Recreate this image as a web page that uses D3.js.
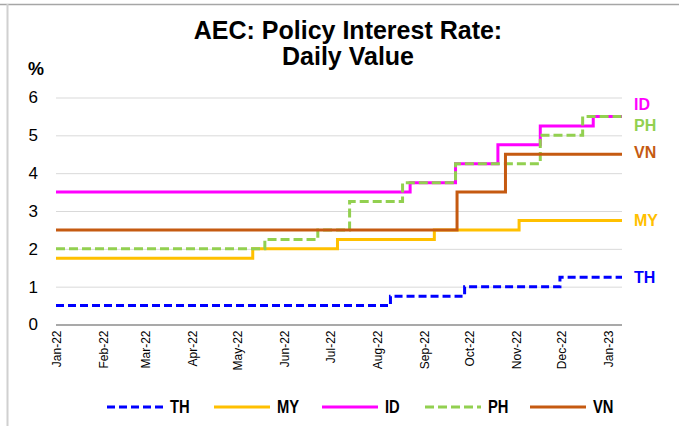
<!DOCTYPE html>
<html>
<head>
<meta charset="utf-8">
<script src="https://cdn.jsdelivr.net/npm/d3@7"></script>
<style>
  body { margin: 0; background: #fff; }
  svg { display: block; font-family: "Liberation Sans", Arial, sans-serif; }
</style>
</head>
<body>
<div id="chart"></div>
<script>
// policy rate changes (date the new rate starts, value in %)
const seriesNames = ['TH', 'MY', 'ID', 'PH', 'VN']
const startDate = '2022-01-01'
const endDate = '2023-01-10'

const thDates = ['2022-01-01', '2022-08-10', '2022-09-28', '2022-11-30']
const thValues = [0.5, 0.75, 1.0, 1.25]

const myDates = ['2022-01-01', '2022-05-11', '2022-07-06', '2022-09-08', '2022-11-03']
const myValues = [1.75, 2.0, 2.25, 2.5, 2.75]

const idDates = ['2022-01-01', '2022-08-23', '2022-09-22', '2022-10-20', '2022-11-17', '2022-12-22']
const idValues = [3.5, 3.75, 4.25, 4.75, 5.25, 5.5]

const phDates = ['2022-01-01', '2022-05-19', '2022-06-23', '2022-07-14', '2022-08-18', '2022-09-22', '2022-11-17', '2022-12-15']
const phValues = [2.0, 2.25, 2.5, 3.25, 3.75, 4.25, 5.0, 5.5]

const vnDates = ['2022-01-01', '2022-09-23', '2022-10-25']
const vnValues = [2.5, 3.5, 4.5]

const yTicks = [0, 1, 2, 3, 4, 5, 6]
const xTickDates = ['2022-01-01', '2022-02-01', '2022-03-01', '2022-04-01', '2022-05-01', '2022-06-01',
  '2022-07-01', '2022-08-01', '2022-09-01', '2022-10-01', '2022-11-01', '2022-12-01', '2023-01-01']

const parse = d3.utcParse('%Y-%m-%d')

const draw = () => {
  const width = 679
  const height = 426
  const plot = { left: 56, right: 622, top: 97.5, bottom: 324.5 }

  const svg = d3.select('#chart')
    .append('svg')
    .attr('width', width)
    .attr('height', height)

  // frame
  svg.append('line')
    .attr('x1', 0).attr('x2', width).attr('y1', 4.5).attr('y2', 4.5)
    .attr('stroke', '#a6a6a6').attr('stroke-width', 1.5)
  svg.append('line')
    .attr('x1', 7.5).attr('x2', 7.5).attr('y1', 4).attr('y2', height)
    .attr('stroke', '#d0d0d0').attr('stroke-width', 2)

  const xScale = d3.scaleUtc()
    .domain([parse(startDate), parse(endDate)])
    .range([plot.left, plot.right])

  const yScale = d3.scaleLinear()
    .domain([0, 6])
    .range([plot.bottom, plot.top])

  // gridlines + y labels
  const yAxis = d3.axisLeft(yScale)
    .tickValues(yTicks)
    .tickSize(-(plot.right - plot.left))
    .tickPadding(18)
    .tickFormat(d3.format('d'))

  const yAxisGroup = svg.append('g')
    .attr('transform', `translate(${plot.left}, 0)`)
    .call(yAxis)
  yAxisGroup.select('.domain').remove()
  yAxisGroup.selectAll('line')
    .attr('stroke', d => d === 0 ? '#8c8c8c' : '#d9d9d9')
    .attr('stroke-width', d => d === 0 ? 1.3 : 1)
  yAxisGroup.selectAll('text')
    .attr('fill', '#000')
    .style('font-size', '17px')

  svg.append('text')
    .attr('x', 28)
    .attr('y', 75)
    .attr('font-weight', 'bold')
    .style('font-size', '18px')
    .text('%')

  // x axis labels, rotated
  const xAxis = d3.axisBottom(xScale)
    .tickValues(xTickDates.map(parse))
    .tickSize(0)
    .tickFormat(d3.utcFormat('%b-%y'))

  const xAxisGroup = svg.append('g')
    .attr('transform', `translate(0, ${plot.bottom})`)
    .call(xAxis)
  xAxisGroup.select('.domain').remove()
  xAxisGroup.selectAll('text')
    .attr('fill', '#000')
    .style('font-size', '12px')
    .attr('text-anchor', 'end')
    .attr('transform', 'rotate(-90)')
    .attr('x', -6)
    .attr('y', 0)
    .attr('dy', '0.36em')

  // title
  const title = svg.append('text')
    .attr('text-anchor', 'middle')
    .attr('font-weight', 'bold')
    .style('font-size', '25px')
  title.append('tspan').attr('x', 348).attr('y', 38.5).text('AEC: Policy Interest Rate:')
  title.append('tspan').attr('x', 348).attr('y', 65).text('Daily Value')

  // series
  const toPoints = (dates, values) => {
    const pts = dates.map((d, i) => ({ date: parse(d), value: values[i] }))
    pts.push({ date: parse(endDate), value: values[values.length - 1] })
    return pts
  }

  const data = {
    TH: toPoints(thDates, thValues),
    MY: toPoints(myDates, myValues),
    ID: toPoints(idDates, idValues),
    PH: toPoints(phDates, phValues),
    VN: toPoints(vnDates, vnValues)
  }

  const styles = {
    TH: { color: '#0000ff', dash: '8,4', labelDy: 0 },
    MY: { color: '#ffc000', dash: null, labelDy: 0 },
    ID: { color: '#ff00ff', dash: null, labelDy: -12 },
    PH: { color: '#92d050', dash: '9,4', labelDy: 9 },
    VN: { color: '#c55a11', dash: null, labelDy: -2 }
  }

  const line = d3.line()
    .x(d => xScale(d.date))
    .y(d => yScale(d.value))
    .curve(d3.curveStepAfter)

  const lines = svg.append('g')
  seriesNames.forEach(name => {
    lines.append('path')
      .datum(data[name])
      .attr('d', line)
      .attr('fill', 'none')
      .attr('stroke', styles[name].color)
      .attr('stroke-width', 3)
      .attr('stroke-dasharray', styles[name].dash)
  })

  // end labels
  seriesNames.forEach(name => {
    const last = data[name][data[name].length - 1]
    svg.append('text')
      .attr('x', 634)
      .attr('y', yScale(last.value) + styles[name].labelDy)
      .attr('dy', '0.36em')
      .attr('fill', styles[name].color)
      .attr('font-weight', 'bold')
      .style('font-size', '16px')
      .text(name)
  })

  // legend (condensed bold, like Arial Narrow)
  const legendX = [107, 214, 322, 425, 530]
  const legend = svg.append('g')
    .attr('transform', 'translate(0, 407)')
  seriesNames.forEach((name, i) => {
    const g = legend.append('g').attr('transform', `translate(${legendX[i]}, 0)`)
    g.append('line')
      .attr('x1', 0).attr('x2', 56).attr('y1', 0).attr('y2', 0)
      .attr('stroke', styles[name].color)
      .attr('stroke-width', 3)
      .attr('stroke-dasharray', styles[name].dash)
    g.append('text')
      .attr('transform', 'translate(63, 0) scale(0.82, 1)')
      .attr('dy', '0.36em')
      .attr('font-weight', 'bold')
      .style('font-size', '18px')
      .text(name)
  })
}

draw()
</script>
</body>
</html>
